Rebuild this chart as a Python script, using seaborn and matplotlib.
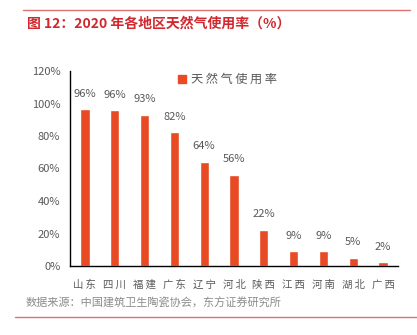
import matplotlib
matplotlib.use("Agg")
import matplotlib.pyplot as plt
import seaborn as sns
import pandas as pd
from matplotlib.lines import Line2D
from matplotlib.ticker import FixedLocator

regions = ["山东", "四川", "福建", "广东", "辽宁", "河北", "陕西", "江西", "河南", "湖北", "广西"]
usage = [96.4, 95.8, 93.2, 82.3, 64.0, 56.0, 22.3, 9.0, 9.0, 5.0, 2.2]
labels = ["96%", "96%", "93%", "82%", "64%", "56%", "22%", "9%", "9%", "5%", "2%"]
yticks = [0, 20, 40, 60, 80, 100, 120]
series_name = "天然气使用率"
title = "图 12：2020 年各地区天然气使用率（%）"
source = "数据来源：中国建筑卫生陶瓷协会，东方证券研究所"

sns.set_theme(style="white")
plt.rcParams['font.family'] = ['Noto Sans CJK SC', 'DejaVu Sans']

bar_color = "#E84A23"
red = "#D0282E"
gray = "#595959"

def spaced(s):
    return "\u2009".join(s)

df = pd.DataFrame({"region": regions, "usage": usage, "series": series_name})

fig = plt.figure(figsize=(4.17, 3.35), dpi=100)
ax = fig.add_axes([70/417, 1-266/335, 328/417, 195/335])

sns.barplot(data=df, x="region", y="usage", hue="series", palette=[bar_color],
            width=0.31, ax=ax, legend=False, saturation=1)

for i, (v, lab) in enumerate(zip(usage, labels)):
    ax.text(i, v + 6.5, lab, ha="center", va="bottom", fontsize=8, color=gray)

ax.set_xlim(-0.5, len(regions) - 0.5)
ax.set_ylim(0, 120)
ax.set_yticks(yticks)
ax.set_yticklabels([f"{t}%" for t in yticks], fontsize=8, color=gray)
ax.set_xticks(range(len(regions)))
ax.set_xticklabels([spaced(r) for r in regions], fontsize=7.5, color=gray)
ax.xaxis.set_minor_locator(FixedLocator([i - 0.5 for i in range(len(regions) + 1)]))
ax.tick_params(axis="x", which="major", length=0, pad=10)
ax.tick_params(axis="x", which="minor", length=4, width=1, color="black", direction="out")
ax.tick_params(axis="y", length=4, width=1, color="black", direction="out", pad=3)
ax.set_xlabel("")
ax.set_ylabel("")
for s in ["top", "right"]:
    ax.spines[s].set_visible(False)
for s in ["left", "bottom"]:
    ax.spines[s].set_color("black")
    ax.spines[s].set_linewidth(1)

handle = Line2D([], [], marker="s", linestyle="none", markersize=6,
                markerfacecolor=bar_color, markeredgecolor=bar_color)
leg = ax.legend([handle], [spaced(series_name)], loc="upper left", bbox_to_anchor=(0.29, 1.045),
                frameon=False, fontsize=8.8, handletextpad=0.2, handlelength=1.0)
for t in leg.get_texts():
    t.set_color(gray)

fig.add_artist(Line2D([23/417, 410/417], [1-10/335, 1-10/335], color="#E07070", lw=1))
fig.text(27/417, 1-24/335, title, fontsize=10, color=red, fontweight="bold", va="center", ha="left")
fig.text(26/417, 1-303/335, source, fontsize=8, color="#8C8C8C", va="center", ha="left")
fig.add_artist(Line2D([15/417, 417/417], [1-317/335, 1-317/335], color="#E07070", lw=1))

fig.savefig("out.png", dpi=100)
